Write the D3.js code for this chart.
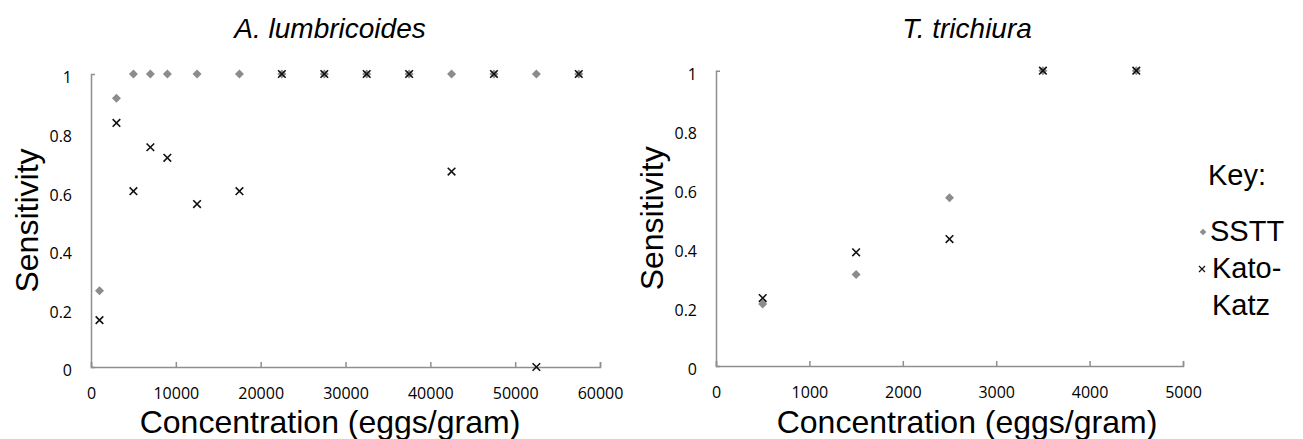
<!DOCTYPE html>
<html>
<head>
<meta charset="utf-8">
<script src="https://cdn.jsdelivr.net/npm/d3@7"></script>
<style>
  body { margin: 0; background: #fff; }
  svg { display: block; }
  .tick text { font-family: "Open Sans", sans-serif; font-size: 16px; fill: #000; }
</style>
</head>
<body>
<svg id="chart" width="1303" height="439"></svg>
<script>
// ---------- data ----------
const aConc   = [1000, 3000, 5000, 7000, 9000, 12500, 17500, 22500, 27500, 32500, 37500, 42500, 47500, 52500, 57500];
const aSSTT   = [0.26, 0.917, 1, 1, 1, 1, 1, 1, 1, 1, 1, 1, 1, 1, 1];
const aKato   = [0.16, 0.833, 0.6, 0.75, 0.714, 0.556, 0.6, 1, 1, 1, 1, 0.667, 1, 0, 1];

const tConc   = [500, 1500, 2500, 3500, 4500];
const tSSTT   = [0.21, 0.31, 0.57, 1, 1];
const tKato   = [0.23, 0.385, 0.43, 1, 1];

const aXTicks = [0, 10000, 20000, 30000, 40000, 50000, 60000];
const tXTicks = [0, 1000, 2000, 3000, 4000, 5000];
const yTicks  = [0, 0.2, 0.4, 0.6, 0.8, 1];
const yTickLabels = ["0", "0.2", "0.4", "0.6", "0.8", "1"];

const titles  = ["A. lumbricoides", "T. trichiura"];
const xTitle  = "Concentration (eggs/gram)";
const yTitle  = "Sensitivity";
const legendTitle = "Key:";
const seriesNames = ["SSTT", "Kato-Katz"];

// ---------- drawing ----------
const svg = d3.select("#chart");
const AXIS = "#8f8f8f";
const SSTT_COL = "#8c8c8c";

function diamond(r) { return `M0,${-r}L${r},0L0,${r}L${-r},0Z`; }
function cross(r) { return `M${-r},${-r}L${r},${r}M${-r},${r}L${r},${-r}`; }

function panel(cfg) {
  const x = d3.scaleLinear().domain(cfg.xDomain).range(cfg.xRange);
  const y = d3.scaleLinear().domain([0, 1]).range(cfg.yRange);
  const g = svg.append("g");

  // x axis
  const xa = g.append("g").attr("transform", `translate(0,${cfg.yRange[0]})`)
    .call(d3.axisBottom(x).tickValues(cfg.xTicks).tickFormat(d3.format("d"))
      .tickSize(-5).tickSizeOuter(-5));
  xa.selectAll("path, line").attr("stroke", AXIS).attr("stroke-width", 1.5);
  xa.selectAll("text").attr("y", 32).attr("dy", 0);

  // y axis
  const ya = g.append("g").attr("transform", `translate(${cfg.xRange[0]},0)`)
    .call(d3.axisLeft(y).tickValues(yTicks).tickFormat((d, i) => yTickLabels[i])
      .tickSize(0).tickSizeOuter(-4).tickPadding(19));
  ya.selectAll("path, line").attr("stroke", AXIS).attr("stroke-width", 1.5);
  ya.selectAll("text").attr("dy", "0.55em");
  ya.select(".domain").attr("stroke-width", 1.5);

  // title
  g.append("text").attr("x", cfg.titleX).attr("y", 38)
    .attr("text-anchor", "middle")
    .style("font-family", "'Liberation Sans', Arial, sans-serif")
    .style("font-style", "italic").style("font-size", "28px")
    .text(cfg.title);

  // x title
  g.append("text").attr("x", cfg.xTitleX).attr("y", 433)
    .attr("text-anchor", "middle")
    .style("font-family", "'Liberation Sans', Arial, sans-serif")
    .style("font-size", "32px")
    .text(xTitle);

  // y title
  g.append("text")
    .attr("transform", `translate(${cfg.xRange[0] - 53},${(cfg.yRange[0] + cfg.yRange[1]) / 2}) rotate(-90)`)
    .attr("text-anchor", "middle")
    .style("font-family", "'Liberation Sans', Arial, sans-serif")
    .style("font-size", "32px")
    .text(yTitle);

  // SSTT diamonds
  g.append("g").selectAll("path").data(cfg.conc.map((c, i) => [c, cfg.sstt[i]]))
    .join("path")
    .attr("transform", d => `translate(${x(d[0])},${y(d[1])})`)
    .attr("d", diamond(4.5)).attr("fill", SSTT_COL);

  // Kato-Katz crosses
  g.append("g").selectAll("path").data(cfg.conc.map((c, i) => [c, cfg.kato[i]]))
    .join("path")
    .attr("transform", d => `translate(${x(d[0])},${y(d[1])})`)
    .attr("d", cross(3.8)).attr("fill", "none")
    .attr("stroke", "#111").attr("stroke-width", 1.6);
}

panel({ xDomain: [0, 60000], xRange: [91, 600], yRange: [367, 74], xTicks: aXTicks,
  conc: aConc, sstt: aSSTT, kato: aKato, title: titles[0], titleX: 330, xTitleX: 330 });
panel({ xDomain: [0, 5000], xRange: [716, 1183], yRange: [366, 70.7], xTicks: tXTicks,
  conc: tConc, sstt: tSSTT, kato: tKato, title: titles[1], titleX: 967, xTitleX: 967 });

// legend
const lg = svg.append("g").style("font-family", "'Liberation Sans', Arial, sans-serif")
  .style("font-size", "29px");
lg.append("text").attr("x", 1208).attr("y", 185).text(legendTitle);
lg.append("path").attr("transform", "translate(1203,232)").attr("d", diamond(3.3)).attr("fill", SSTT_COL);
lg.append("text").attr("x", 1210).attr("y", 241).text(seriesNames[0]);
lg.append("path").attr("transform", "translate(1202,269)").attr("d", cross(3)).attr("fill", "none")
  .attr("stroke", "#111").attr("stroke-width", 1.2);
const kk = seriesNames[1].split("-");
lg.append("text").attr("x", 1212).attr("y", 278).text(kk[0] + "-");
lg.append("text").attr("x", 1212).attr("y", 315).text(kk[1]);
</script>
</body>
</html>
